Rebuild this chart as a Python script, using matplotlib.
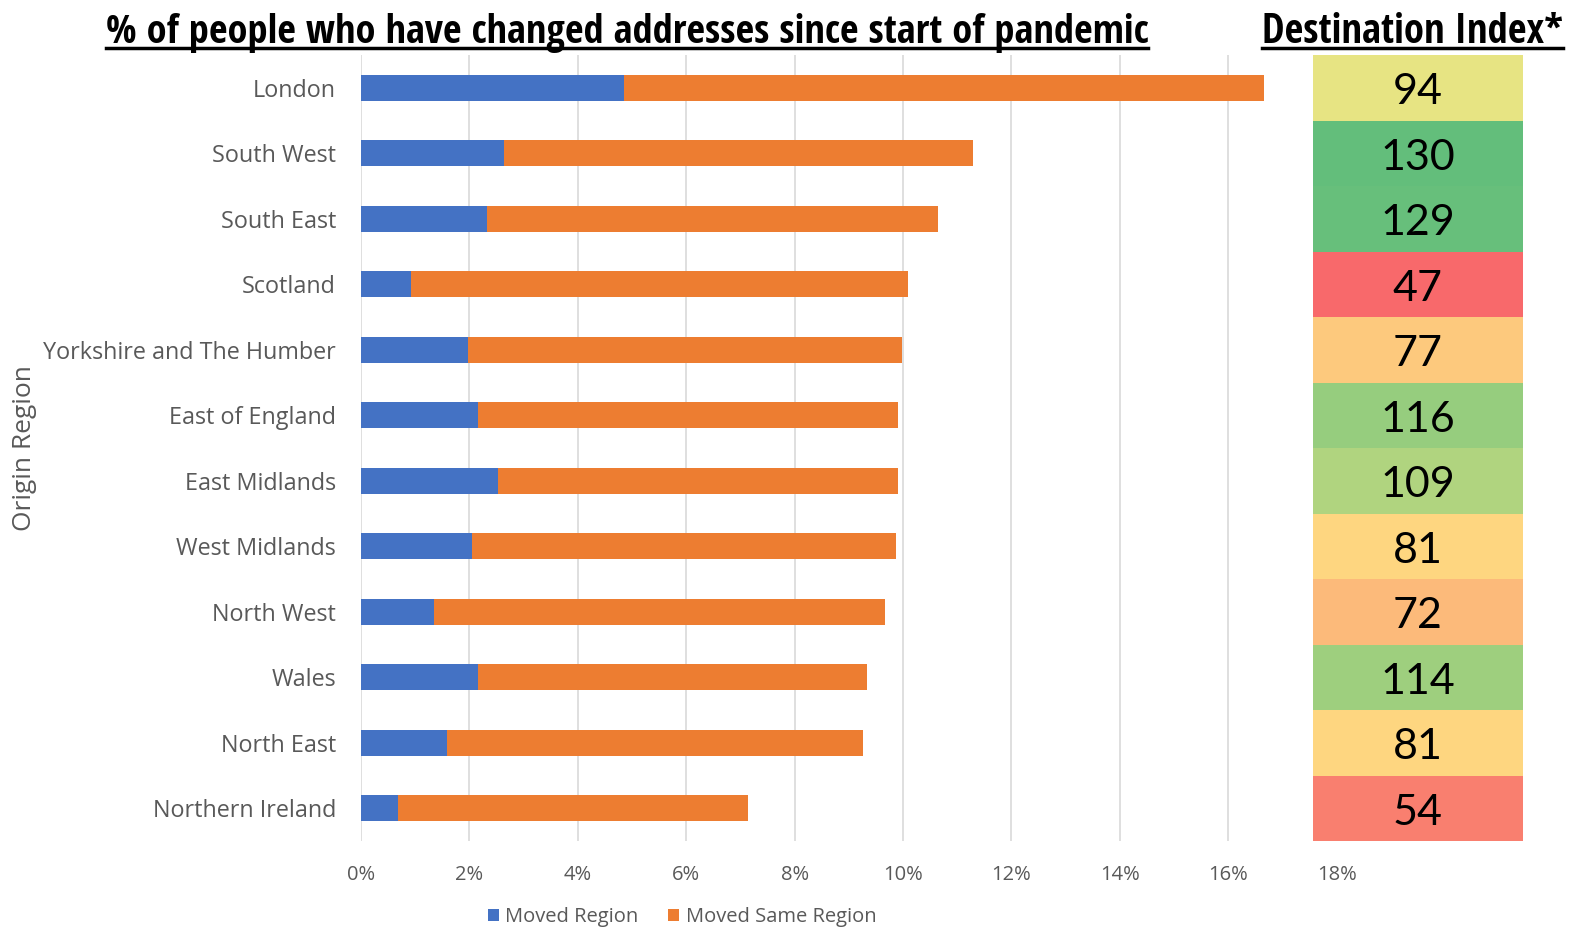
import numpy as np
import matplotlib
matplotlib.use("Agg")
import matplotlib.pyplot as plt
from matplotlib.colors import LinearSegmentedColormap, TwoSlopeNorm
from matplotlib.lines import Line2D
from matplotlib.patches import Rectangle

# Data (top to bottom)
regions = ["London", "South West", "South East", "Scotland",
           "Yorkshire and The Humber", "East of England", "East Midlands",
           "West Midlands", "North West", "Wales", "North East",
           "Northern Ireland"]
moved_region = [4.85, 2.64, 2.32, 0.92, 1.97, 2.16, 2.53, 2.05, 1.35, 2.16, 1.59, 0.68]
total_moved = [16.66, 11.29, 10.65, 10.09, 9.98, 9.91, 9.91, 9.87, 9.67, 9.34, 9.26, 7.14]
destination_index = [94, 130, 129, 47, 77, 116, 109, 81, 72, 114, 81, 54]
x_ticks = [0, 2, 4, 6, 8, 10, 12, 14, 16, 18]

moved_region = np.array(moved_region) / 100
moved_same = np.array(total_moved) / 100 - moved_region

BLUE = "#4472C4"
ORANGE = "#ED7D31"
GREY = "#595959"
FONT = ["Open Sans", "DejaVu Sans"]
NUM_FONT = ["Lato", "DejaVu Sans"]
TITLE_FONT = ["Open Sans Condensed", "DejaVu Sans"]

fig = plt.figure(figsize=(15.7, 9.3), dpi=100)
ax = fig.add_axes([361 / 1570, 1 - 841 / 930, (1523 - 361) / 1570, (841 - 55) / 930])

y = np.arange(len(regions))
ax.barh(y, moved_region, height=0.4, color=BLUE, label="Moved Region", zorder=3)
ax.barh(y, moved_same, left=moved_region, height=0.4, color=ORANGE,
        label="Moved Same Region", zorder=3)

ax.set_ylim(len(regions) - 0.5, -0.5)
ax.set_xlim(0, 0.2144)
ax.set_xticks([t / 100 for t in x_ticks])
ax.set_xticklabels([f"{t}%" for t in x_ticks], fontsize=14.5, color=GREY, family=FONT)
ax.set_yticks(y)
ax.set_yticklabels(regions, fontsize=16.8, color=GREY, family=FONT)
ax.tick_params(axis="both", length=0)
ax.tick_params(axis="y", pad=18)
ax.tick_params(axis="x", pad=17.5)
ax.grid(axis="x", color="#D9D9D9", linewidth=1.2, zorder=0)
for s in ax.spines.values():
    s.set_visible(False)
ax.set_ylabel("Origin Region", fontsize=19, color=GREY, family=FONT, labelpad=0)
ax.yaxis.set_label_coords(-0.279, 0.5)

# Destination index column, coloured like an Excel 3-colour scale
cmap = LinearSegmentedColormap.from_list("excel", ["#F8696B", "#FFEB84", "#63BE7B"])
norm = TwoSlopeNorm(vmin=min(destination_index), vcenter=np.median(destination_index),
                    vmax=max(destination_index))
cell_left = 0.1756
cell_right = 0.2144
for i, v in enumerate(destination_index):
    ax.add_patch(Rectangle((cell_left, i - 0.5), cell_right - cell_left, 1,
                           facecolor=cmap(norm(v)), edgecolor="none", zorder=4))
    ax.text((cell_left + cell_right) / 2, i + 0.07, str(v), ha="center", va="center",
            fontsize=31, family=NUM_FONT, color="black", zorder=5)

leg = fig.legend(loc="center", bbox_to_anchor=(682 / 1570, 1 - 917 / 930), ncol=2,
                 frameon=False, handlelength=0.55, handleheight=0.55, handletextpad=0.3,
                 columnspacing=1.5, prop={"family": FONT, "size": 14.5})
for t in leg.get_texts():
    t.set_color(GREY)

t1 = fig.text(627 / 1570, 1 - 43 / 930,
              "% of people who have changed addresses since start of pandemic",
              ha="center", va="baseline", fontsize=30, fontweight="bold", family=TITLE_FONT)
t2 = fig.text(1412 / 1570, 1 - 43 / 930, "Destination Index*",
              ha="center", va="baseline", fontsize=30, fontweight="bold", family=TITLE_FONT)

# fit the title widths to the reference, then underline them
fig.canvas.draw()
r = fig.canvas.get_renderer()
for t, target in ((t1, 1040), (t2, 301)):
    w = t.get_window_extent(r).width
    t.set_fontsize(t.get_fontsize() * target / w)
fig.canvas.draw()
for t in (t1, t2):
    bb = t.get_window_extent(r).transformed(fig.transFigure.inverted())
    fig.add_artist(Line2D([bb.x0, bb.x1], [1 - 48 / 930] * 2, transform=fig.transFigure,
                          color="black", linewidth=2.5))

fig.savefig("out.png", dpi=100)
